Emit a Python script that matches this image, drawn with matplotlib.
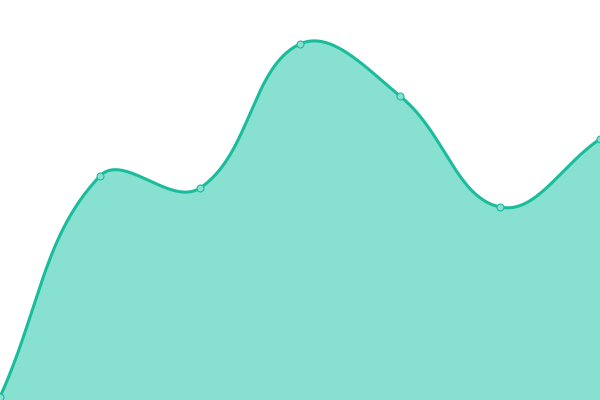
import numpy as np
import matplotlib
matplotlib.use("Agg")
import matplotlib.pyplot as plt

# values (y axis 0..400, no labels shown)
positions = [0, 1, 2, 3, 4, 5, 6]
values = [3, 224, 212, 356, 304, 193, 261]

line_color = "#1abc9c"
fill_color = "#88e0d0"
tension = 0.4


def spline_path(xs, ys, t=tension, n=60):
    # Chart.js style bezier spline through the points
    pts = np.column_stack([xs, ys]).astype(float)
    ctrl = []
    for i in range(len(pts)):
        prev = pts[max(i - 1, 0)]
        cur = pts[i]
        nxt = pts[min(i + 1, len(pts) - 1)]
        d01 = np.hypot(*(cur - prev))
        d12 = np.hypot(*(nxt - cur))
        s01 = d01 / (d01 + d12) if d01 + d12 else 0
        s12 = d12 / (d01 + d12) if d01 + d12 else 0
        c_prev = cur - t * s01 * (nxt - prev)
        c_next = cur + t * s12 * (nxt - prev)
        ctrl.append((c_prev, c_next))
    out = [pts[0]]
    u = np.linspace(0, 1, n)[1:, None]
    for i in range(len(pts) - 1):
        p0, p3 = pts[i], pts[i + 1]
        p1, p2 = ctrl[i][1], ctrl[i + 1][0]
        seg = ((1 - u) ** 3) * p0 + 3 * ((1 - u) ** 2) * u * p1 + 3 * (1 - u) * u ** 2 * p2 + u ** 3 * p3
        out.extend(seg)
    out = np.array(out)
    return out[:, 0], out[:, 1]


fig = plt.figure(figsize=(6, 4), dpi=100)
ax = fig.add_axes([0, 0, 1, 1])
ax.set_xlim(0, 6)
ax.set_ylim(0, 400)

# spline computed in pixel space (100 px per step)
sx, sy = spline_path(np.array(positions) * 100, values)
sx = sx / 100
sy = np.clip(sy, 0, 400)

ax.fill_between(sx, sy, 0, color=fill_color, linewidth=0)
ax.plot(sx, sy, color=line_color, linewidth=2.2, solid_capstyle="round")
ax.plot(positions, values, "o", markersize=5, markerfacecolor=fill_color,
        markeredgecolor=line_color, markeredgewidth=0.8, clip_on=True)

ax.axis("off")
fig.savefig("out.png", dpi=100)
